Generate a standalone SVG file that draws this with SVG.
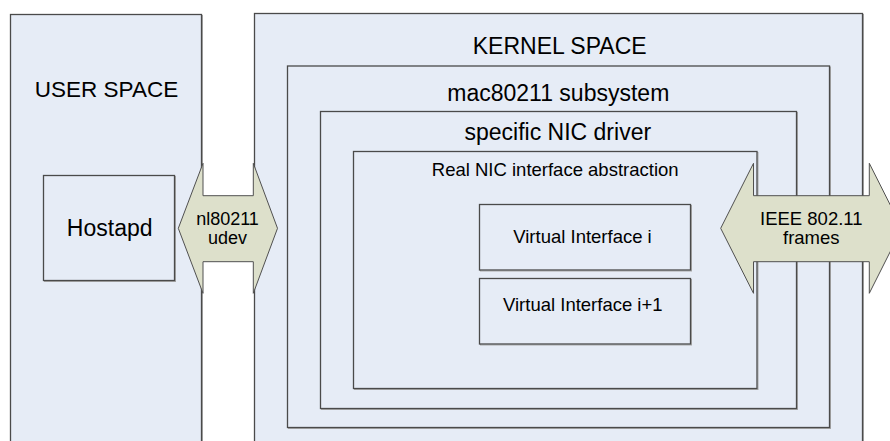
<svg xmlns="http://www.w3.org/2000/svg" width="890" height="441" viewBox="0 0 890 441">
<defs>
<style>
.box{fill:#e6ecf6;stroke:#4a4a4a;stroke-width:1.3}
.shadow{fill:none;stroke:#a8a8a8;stroke-width:1}
.arrow{fill:#dde0cb;stroke:#505050;stroke-width:1}
text{font-family:"Liberation Sans",Arial,sans-serif;fill:#000;text-anchor:middle}
.big{font-size:23px}
.small{font-size:18.5px}
</style>
</defs>
<rect width="890" height="441" fill="#fff"/>
<g id="user-space">
<rect class="shadow" x="11.5" y="15.5" width="191" height="440"/>
<rect class="box" x="10.5" y="14.5" width="191" height="440"/>
<text class="big" x="106.5" y="96.7" style="font-size:22.5px">USER SPACE</text>
</g>
<g id="hostapd">
<rect class="shadow" x="44.5" y="176.5" width="131" height="105"/>
<rect class="box" x="43.5" y="175.5" width="131" height="105"/>
<text class="big" x="109.7" y="235.7">Hostapd</text>
</g>
<g id="kernel-space">
<rect class="shadow" x="255.5" y="14.5" width="608" height="440"/>
<rect class="box" x="254.5" y="13.5" width="608" height="440"/>
<text class="big" x="559.7" y="54.3">KERNEL SPACE</text>
</g>
<g id="mac80211">
<rect class="shadow" x="288.5" y="67" width="542" height="361.5"/>
<rect class="box" x="287.5" y="66" width="542" height="361.5"/>
<text class="big" x="558.3" y="101">mac80211 subsystem</text>
</g>
<g id="nic-driver">
<rect class="shadow" x="321.5" y="112.5" width="476" height="297"/>
<rect class="box" x="320.5" y="111.5" width="476" height="297"/>
<text class="big" x="557.8" y="140">specific NIC driver</text>
</g>
<g id="nic-abstraction">
<rect class="shadow" x="354.5" y="152.5" width="403.5" height="237"/>
<rect class="box" x="353.5" y="151.5" width="403.5" height="237"/>
<text class="small" x="555.2" y="175.7">Real NIC interface abstraction</text>
</g>
<g id="virtual-interface-i">
<rect class="shadow" x="480.5" y="205.5" width="211" height="65.5"/>
<rect class="box" x="479.5" y="204.5" width="211" height="65.5"/>
<text class="small" x="582.5" y="243.3">Virtual Interface i</text>
</g>
<g id="virtual-interface-i1">
<rect class="shadow" x="480.5" y="279.5" width="211" height="65.5"/>
<rect class="box" x="479.5" y="278.5" width="211" height="65.5"/>
<text class="small" x="582.8" y="310.5">Virtual Interface i+1</text>
</g>
<g id="connectors">
<g id="nl80211-arrow">
<polygon class="arrow" points="178.3,228.3 203,163.3 203,195.7 253.3,195.7 253.3,163.3 277.5,228.3 253.3,293.3 253.3,261.7 203,261.7 203,293.3"/>
<text class="small" x="227.5" y="225" style="font-size:18px">nl80211</text>
<text class="small" x="227.5" y="244.3" style="font-size:18px">udev</text>
</g>
<g id="ieee-arrow">
<polygon class="arrow" points="720.7,228.3 753.5,163.3 753.5,195.7 869.3,195.7 869.3,163.3 902,228.3 869.3,293.3 869.3,261.7 753.5,261.7 753.5,293.3"/>
<text class="small" x="811.3" y="225">IEEE 802.11</text>
<text class="small" x="811.3" y="244.3">frames</text>
</g>
</g>
</svg>
